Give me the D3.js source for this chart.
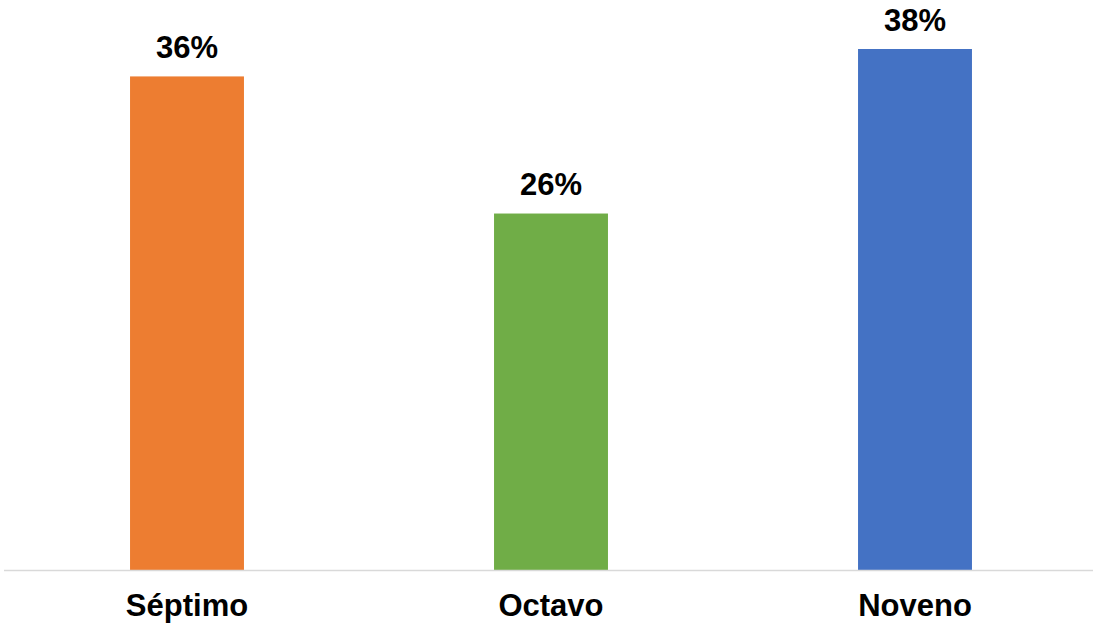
<!DOCTYPE html>
<html>
<head>
<meta charset="utf-8">
<script src="https://cdn.jsdelivr.net/npm/d3@7"></script>
<style>
  html, body { margin: 0; padding: 0; background: #fff; }
  svg { display: block; }
  text { font-family: "Liberation Sans", Arial, sans-serif; font-weight: bold; fill: #000; }
</style>
</head>
<body>
<svg id="chart"></svg>
<script>
const categories = ["Séptimo", "Octavo", "Noveno"];
const values = [36, 26, 38];
const colors = ["#ED7D31", "#70AD47", "#4472C4"];

const width = 1097, height = 625;
const baseY = 570;

const svg = d3.select("#chart")
  .attr("width", width)
  .attr("height", height)
  .attr("viewBox", `0 0 ${width} ${height}`);

const x = d3.scaleBand()
  .domain(categories)
  .range([5, 1097])
  .paddingInner(0.687)
  .paddingOuter(0.3435);

// 38% bar top sits at about y=49
const y = d3.scaleLinear()
  .domain([0, 38])
  .range([baseY, 49]);

const data = categories.map((c, i) => ({cat: c, value: values[i], color: colors[i]}));

svg.selectAll("rect.bar")
  .data(data)
  .enter().append("rect")
  .attr("class", "bar")
  .attr("x", d => x(d.cat))
  .attr("y", d => y(d.value))
  .attr("width", x.bandwidth())
  .attr("height", d => baseY - y(d.value))
  .attr("fill", d => d.color);

// baseline
svg.append("line")
  .attr("x1", 4).attr("x2", 1093)
  .attr("y1", baseY + 0.5).attr("y2", baseY + 0.5)
  .attr("stroke", "#D9D9D9")
  .attr("stroke-width", 1.5);

// value labels
svg.selectAll("text.val")
  .data(data)
  .enter().append("text")
  .attr("class", "val")
  .attr("x", d => x(d.cat) + x.bandwidth() / 2)
  .attr("y", d => y(d.value) - 18.5)
  .attr("text-anchor", "middle")
  .style("font-size", "31px")
  .text(d => d.value + "%");

// category labels
svg.selectAll("text.cat")
  .data(data)
  .enter().append("text")
  .attr("class", "cat")
  .attr("x", d => x(d.cat) + x.bandwidth() / 2)
  .attr("y", 615.7)
  .attr("text-anchor", "middle")
  .style("font-size", "31px")
  .text(d => d.cat);
</script>
</body>
</html>
